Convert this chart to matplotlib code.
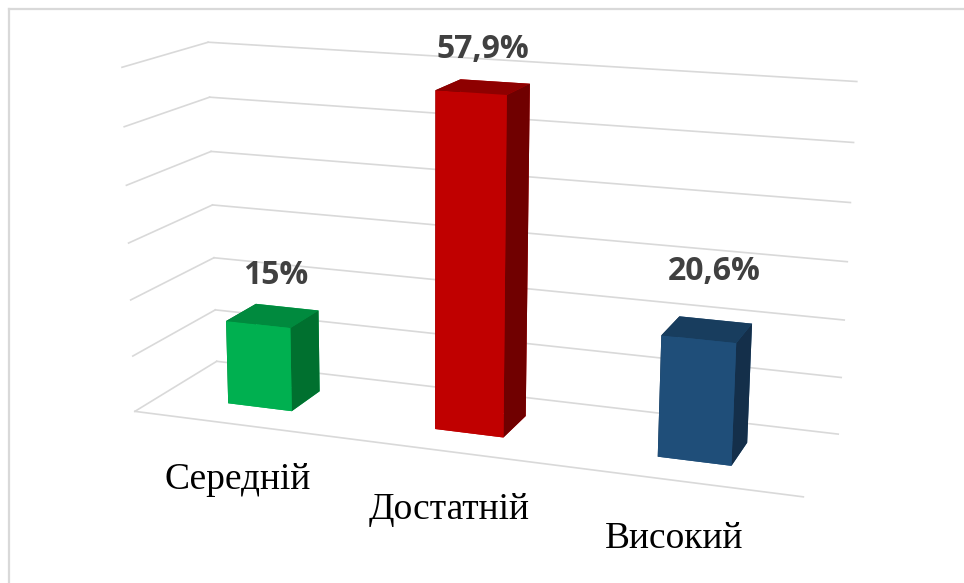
import matplotlib
matplotlib.use("Agg")
import matplotlib.pyplot as plt
from matplotlib.lines import Line2D

categories = ["Середній", "Достатній", "Високий"]
values = [15, 57.9, 20.6]
value_labels = ["15%", "57,9%", "20,6%"]
front_colors = ["#00B050", "#C00000", "#1F4E79"]
top_colors = ["#008A3E", "#8E0000", "#183D5E"]
side_colors = ["#00702F", "#700000", "#142F4A"]
grid_values = [0, 10, 20, 30, 40, 50, 60]
W, H = 964, 583
# pixel centres of the labels in the reference
value_pos = [(276, 275), (483, 49), (714, 272)]
cat_pos = [(238, 480), (449, 510), (674, 539)]

fig = plt.figure(figsize=(9.64, 5.83), dpi=100)
ax = fig.add_axes([-0.1803, -0.1213, 1.341, 1.341], projection="3d")
ax.set_proj_type("persp", focal_length=0.4771)
ax.view_init(elev=14.18, azim=-70.59, roll=-0.4)
ax.set_box_aspect((3.2, 0.856, 1.65))
ax.set_axis_off()
ax.set_xlim(0, 3)
ax.set_ylim(0, 1)
ax.set_zlim(0, 60)

# gridlines on the walls
for g in grid_values:
    ax.plot([0, 0], [0, 1], [g, g], color="#d9d9d9", lw=1.2)
    ax.plot([0, 3], [1, 1], [g, g], color="#d9d9d9", lw=1.2)
ax.plot([0, 3], [0, 0], [0, 0], color="#d9d9d9", lw=1.2)

bar_w = 0.315
bar_d = 0.38
for i, v in enumerate(values):
    # face order: bottom, top, front, back, left, right
    cols = [front_colors[i], top_colors[i], front_colors[i], front_colors[i], side_colors[i], side_colors[i]]
    ax.bar3d(i + 0.495 - bar_w / 2, 0.5 - bar_d / 2, 0, bar_w, bar_d, v, color=cols, shade=False, zsort="max")
    fig.text(value_pos[i][0] / W, 1 - value_pos[i][1] / H, value_labels[i], ha="center", va="center",
             fontsize=23, fontweight="bold", color="#404040", family="Open Sans")
    fig.text(cat_pos[i][0] / W, 1 - cat_pos[i][1] / H, categories[i], ha="center", va="center",
             fontsize=27, color="black", family="Liberation Serif")

# chart frame, only top and left show
fig.add_artist(Line2D([8.5 / W, 8.5 / W], [0, 1 - 9 / H], color="#d9d9d9", lw=1.6))
fig.add_artist(Line2D([8.5 / W, 1], [1 - 9 / H, 1 - 9 / H], color="#d9d9d9", lw=1.6))
fig.savefig("out.png", dpi=100)
